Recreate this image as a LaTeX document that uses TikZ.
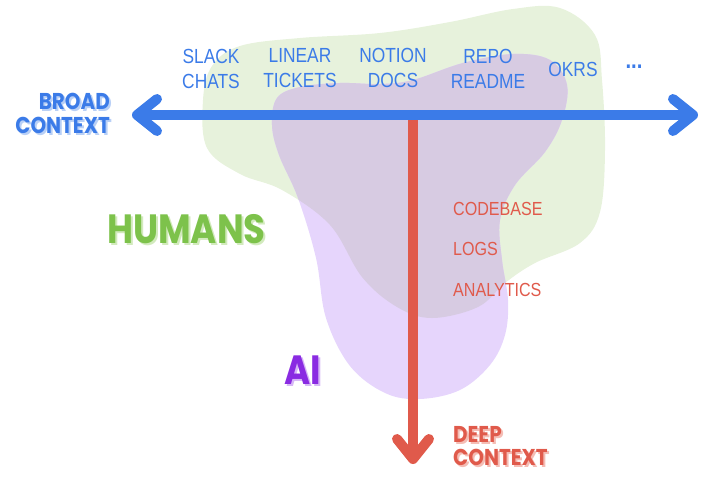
\documentclass[tikz,border=0pt]{standalone}
\usepackage{fontspec}
\setmainfont{Liberation Sans}[FakeStretch=0.85]
\newfontfamily\handfont{Poppins}[FakeStretch=0.87]
\usetikzlibrary{arrows.meta}

\definecolor{broadblue}{HTML}{3B7BE8}
\definecolor{broadshade}{HTML}{B9D0F6}
\definecolor{deepred}{HTML}{E05A4B}
\definecolor{deepshade}{HTML}{F4BDB5}
\definecolor{humangreen}{HTML}{7DC24B}
\definecolor{humanshade}{HTML}{D2EABD}
\definecolor{aipurple}{HTML}{8A2BE2}
\definecolor{aishade}{HTML}{D6B6F6}
\definecolor{humanfill}{HTML}{E7F2DC}
\definecolor{aifill}{HTML}{E6D5FC}
\definecolor{bothfill}{HTML}{D7CBE2}

% blob outlines, in pixels of the 720x486 frame
\newcommand{\humanblob}{plot[smooth cycle, tension=0.6] coordinates {
    (207,148) (240,174) (282,190) (330,225) (362,277) (397,307)
    (432,318) (478,307) (505,283) (535,263) (580,243) (600,212)
    (605,150) (602,80) (595,35) (560,8) (513,9) (450,22)
    (380,33) (300,38) (240,46) (212,66) (203,100)}}
\newcommand{\aiblob}{plot[smooth cycle, tension=0.6] coordinates {
    (277,98) (300,87) (340,83) (380,84) (413,80) (463,63)
    (513,54) (550,60) (567,85) (562,120) (545,152) (515,185)
    (500,220) (502,260) (508,300) (505,335) (490,365) (460,390)
    (420,399) (385,393) (350,366) (326,318) (316,258) (298,198)
    (279,155) (272,125)}}

\begin{document}
\begin{tikzpicture}[
    x=1bp, y=-1bp,
    >={Straight Barb[round, length=20bp, width=32bp]},
    item/.style={
        font=\fontsize{20.5}{25}\selectfont,
        text=broadblue,
        align=center,
        inner sep=0pt
    },
    source/.style={
        font=\fontsize{19}{24}\selectfont,
        text=deepred,
        anchor=base west,
        inner sep=0pt
    },
    headline/.style={
        font=\handfont\bfseries\fontsize{23}{24}\selectfont,
        inner sep=0pt
    },
    bigheadline/.style={
        font=\handfont\bfseries\fontsize{41}{42}\selectfont,
        anchor=base west,
        inner sep=0pt
    },
    axis/.style={<->, line width=10bp, line cap=round}
]

    \useasboundingbox (0,0) rectangle (720,486);

    % blobs
    \fill[humanfill] \humanblob;
    \fill[aifill] \aiblob;
    \begin{scope}
        \clip \humanblob;
        \fill[bothfill] \aiblob;
    \end{scope}

    % axes
    \coordinate (hub) at (413,115);
    \coordinate (deepEnd) at (413,464);
    \coordinate (broadEnd) at (132,115);
    \coordinate (wideEnd) at (698,115);

    \draw[->, line width=10bp, deepred] (hub) -- (deepEnd);
    \draw[axis, broadblue] (broadEnd) -- (wideEnd);

    % broad sources
    \node[item] (slack) at (211,69) {SLACK\\CHATS};
    \node[item] (linear) at (300,68) {LINEAR\\TICKETS};
    \node[item] (notion) at (393,68) {NOTION\\DOCS};
    \node[item] (repo) at (488,69) {REPO\\README};
    \node[item] (okrs) at (573,69) {OKRS};
    \node[item, font=\fontsize{24}{25}\selectfont\bfseries] (more) at (634,67) {...};

    % deep sources
    \node[source] (codebase) at (453,216) {CODEBASE};
    \node[source] (logs) at (453,256) {LOGS};
    \node[source] (analytics) at (453,296) {ANALYTICS};

    % headlines
    \node[headline, text=broadshade, align=right, anchor=east] (broadShadow) at (112,115) {BROAD\\CONTEXT};
    \node[headline, text=broadblue, align=right, anchor=east] (broad) at (110,113) {BROAD\\CONTEXT};

    \node[headline, text=deepshade, align=left, anchor=west] (deepShadow) at (455,448) {DEEP\\CONTEXT};
    \node[headline, text=deepred, align=left, anchor=west] (deep) at (453,446) {DEEP\\CONTEXT};

    \node[bigheadline, text=humanshade] (humansShadow) at (109,246) {HUMANS};
    \node[bigheadline, text=humangreen] (humans) at (107,244) {HUMANS};

    \node[bigheadline, text=aishade] (aiShadow) at (286,386) {AI};
    \node[bigheadline, text=aipurple] (ai) at (284,384) {AI};

\end{tikzpicture}
\end{document}
